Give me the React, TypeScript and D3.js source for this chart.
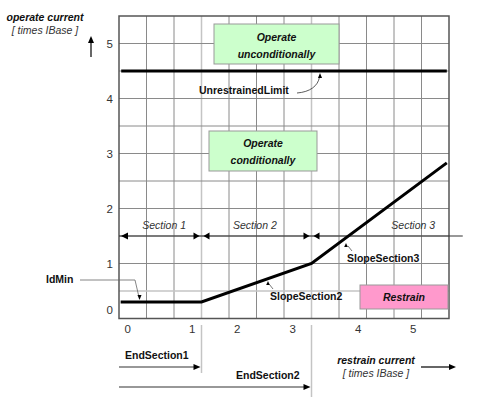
import React from 'react';
import * as d3 from 'd3';

// ---- data ----
const xTickLabels = ['0', '1', '2', '3', '4', '5'];
const xTickPos = [0.16, 1.33, 2.15, 3.16, 4.35, 5.35];
const yTickLabels = ['0', '1', '2', '3', '4', '5'];
const yTickPos = [0.15, 1, 2, 3, 4, 5];
const charX = [0.03, 1.5, 3.5, 5.96];
const charY = [0.3, 0.3, 1.0, 2.83];
const unrestrainedLimit = 4.5;
const endSections = [1.5, 3.5];
const sectionLevel = 1.5;
const sectionNames = ['Section 1', 'Section 2', 'Section 3'];
const sectionCenters = [0.82, 2.47, 5.35];

const FONT = '"Liberation Sans", Arial, Helvetica, sans-serif';

function Arrow({ x, y, dir, size = 7, w = 3, fill = '#000' }: { x: number; y: number; dir: 'l' | 'r' | 'u' | 'd'; size?: number; w?: number; fill?: string }) {
  let pts = '';
  if (dir === 'r') pts = `${x},${y} ${x - size},${y - w} ${x - size},${y + w}`;
  if (dir === 'l') pts = `${x},${y} ${x + size},${y - w} ${x + size},${y + w}`;
  if (dir === 'u') pts = `${x},${y} ${x - w},${y + size} ${x + w},${y + size}`;
  if (dir === 'd') pts = `${x},${y} ${x - w},${y - size} ${x + w},${y - size}`;
  return <polygon points={pts} fill={fill} />;
}

export default function App() {
  const W = 500, H = 397;
  const x = d3.scaleLinear().domain([0, 6]).range([119, 449]);
  const y = d3.scaleLinear().domain([0, 5.5]).range([318.5, 16]);
  const gx = d3.range(0.5, 6, 0.5);
  const gy = d3.range(0.5, 5.5, 0.5);
  const lightX = endSections;
  const lightY = [0.5];
  const line = d3.line<number>().x((d) => x(d)).y((_, i) => y(charY[i]));

  const FS = 10.5;
  const bold = { fontFamily: FONT, fontWeight: 'bold' as const, fontSize: FS, fill: '#111' };
  const boldIt = { ...bold, fontStyle: 'italic' as const };
  const it = { fontFamily: FONT, fontStyle: 'italic' as const, fontSize: FS, fill: '#333' };

  const secY = y(sectionLevel);
  return (
    <svg width={W} height={H} style={{ position: 'absolute', left: 0, top: 0, background: '#fff' }}>
      <rect width={W} height={H} fill="#fff" />
      {/* grid */}
      {gx.map((v) => (
        <line key={'gx' + v} x1={x(v)} x2={x(v)} y1={y(5.5)} y2={y(0)}
          stroke={lightX.includes(v) ? '#c4c4c4' : '#8a8a8a'} strokeWidth={lightX.includes(v) ? 1.5 : 1} />
      ))}
      {gy.map((v) => (
        <line key={'gy' + v} y1={y(v)} y2={y(v)} x1={x(0)} x2={x(6)}
          stroke={lightY.includes(v) ? '#c4c4c4' : '#8a8a8a'} strokeWidth={lightY.includes(v) ? 1.5 : 1} />
      ))}
      <rect x={x(0)} y={y(5.5)} width={x(6) - x(0)} height={y(0) - y(5.5)} fill="none" stroke="#555" strokeWidth={1.5} />

      {/* green boxes */}
      <rect x={214} y={24} width={125} height={40} fill="#ccffcc" stroke="#999" strokeWidth={1} />
      <text x={276.5} y={40.5} textAnchor="middle" {...boldIt}>Operate</text>
      <text x={276.5} y={57.5} textAnchor="middle" {...boldIt}>unconditionally</text>
      <rect x={209} y={131} width={108} height={40} fill="#ccffcc" stroke="#999" strokeWidth={1} />
      <text x={263} y={146.5} textAnchor="middle" {...boldIt}>Operate</text>
      <text x={263} y={163.5} textAnchor="middle" {...boldIt}>conditionally</text>

      {/* restrain box */}
      <rect x={360} y={285} width={88} height={24} fill="#ff99cc" stroke="#999" strokeWidth={1} />
      <text x={404} y={301} textAnchor="middle" {...boldIt}>Restrain</text>

      {/* unrestrained limit */}
      <line x1={x(0.04)} x2={x(5.96)} y1={y(unrestrainedLimit)} y2={y(unrestrainedLimit)} stroke="#000" strokeWidth={3} />
      <text x={199} y={94} {...bold}>UnrestrainedLimit</text>
      <path d="M297,93 C310,92 318,86 319.5,77" fill="none" stroke="#333" strokeWidth={0.8} />
      <Arrow x={320} y={73} dir="u" size={5} w={2} />

      {/* section arrows */}
      <line x1={x(0)} x2={x(6.25)} y1={secY} y2={secY} stroke="#333" strokeWidth={1.2} />
      <Arrow x={x(0) + 2} y={secY} dir="l" size={7} w={3.5} />
      {endSections.map((e) => (
        <g key={'es' + e}>
          <Arrow x={x(e) - 2} y={secY} dir="r" size={6} w={3.5} />
          <Arrow x={x(e) + 2} y={secY} dir="l" size={6} w={3.5} />
        </g>
      ))}
      {sectionNames.map((s, i) => (
        <text key={s} x={x(sectionCenters[i])} y={228.5} textAnchor="middle" {...it}>{s}</text>
      ))}

      {/* characteristic */}
      <path d={line(charX) || ''} fill="none" stroke="#000" strokeWidth={3} strokeLinejoin="miter" />

      {/* IdMin */}
      <text x={46} y={283} {...bold}>IdMin</text>
      <polyline points="80,280 135,280 138.5,295" fill="none" stroke="#666" strokeWidth={0.8} />
      <Arrow x={139.5} y={300} dir="d" size={5} w={2} />

      {/* slope labels */}
      <text x={347} y={261.5} {...bold}>SlopeSection3</text>
      <line x1={352} y1={251} x2={348} y2={246} stroke="#555" strokeWidth={0.8} />
      <Arrow x={346} y={243} dir="u" size={4} w={1.8} />
      <text x={270} y={300} {...bold}>SlopeSection2</text>
      <line x1={273} y1={289} x2={269.5} y2={284.5} stroke="#555" strokeWidth={0.8} />
      <Arrow x={268} y={281} dir="u" size={4} w={1.8} />

      {/* axis tick labels */}
      {yTickLabels.map((t, i) => (
        <text key={'yt' + t} x={113} y={y(yTickPos[i]) + 4} textAnchor="end" fontFamily={FONT} fontSize={11.5} fill="#333">{t}</text>
      ))}
      {xTickLabels.map((t, i) => (
        <text key={'xt' + t} x={x(xTickPos[i])} y={333} textAnchor="middle" fontFamily={FONT} fontSize={11.5} fill="#333">{t}</text>
      ))}

      {/* axis titles */}
      <text x={45} y={20.5} textAnchor="middle" {...boldIt}>operate current</text>
      <text x={45} y={33.5} textAnchor="middle" {...it}>[ times IBase ]</text>
      <line x1={91} x2={91} y1={57} y2={42} stroke="#000" strokeWidth={1.2} />
      <Arrow x={91} y={36} dir="u" size={7} w={3} />

      <text x={376} y={363.5} textAnchor="middle" {...boldIt}>restrain current</text>
      <text x={376} y={376.5} textAnchor="middle" {...it}>[ times IBase ]</text>
      <line x1={421} x2={450} y1={367} y2={367} stroke="#000" strokeWidth={1.2} />
      <Arrow x={456} y={367} dir="r" size={7} w={3} />

      {/* end section markers */}
      {endSections.map((e) => (
        <line key={'ev' + e} x1={x(e)} x2={x(e)} y1={325} y2={e === endSections[0] ? 373 : 397} stroke="#c4c4c4" strokeWidth={1.5} />
      ))}
      <text x={125} y={358.5} {...bold}>EndSection1</text>
      <line x1={x(0)} x2={x(endSections[0]) - 6} y1={367} y2={367} stroke="#333" strokeWidth={1.2} />
      <Arrow x={x(endSections[0]) - 1} y={367} dir="r" size={7} w={3} />
      <text x={236} y={378.5} {...bold}>EndSection2</text>
      <line x1={x(0)} x2={x(endSections[1]) - 6} y1={387} y2={387} stroke="#333" strokeWidth={1.2} />
      <Arrow x={x(endSections[1]) - 1} y={387} dir="r" size={7} w={3} />
    </svg>
  );
}
